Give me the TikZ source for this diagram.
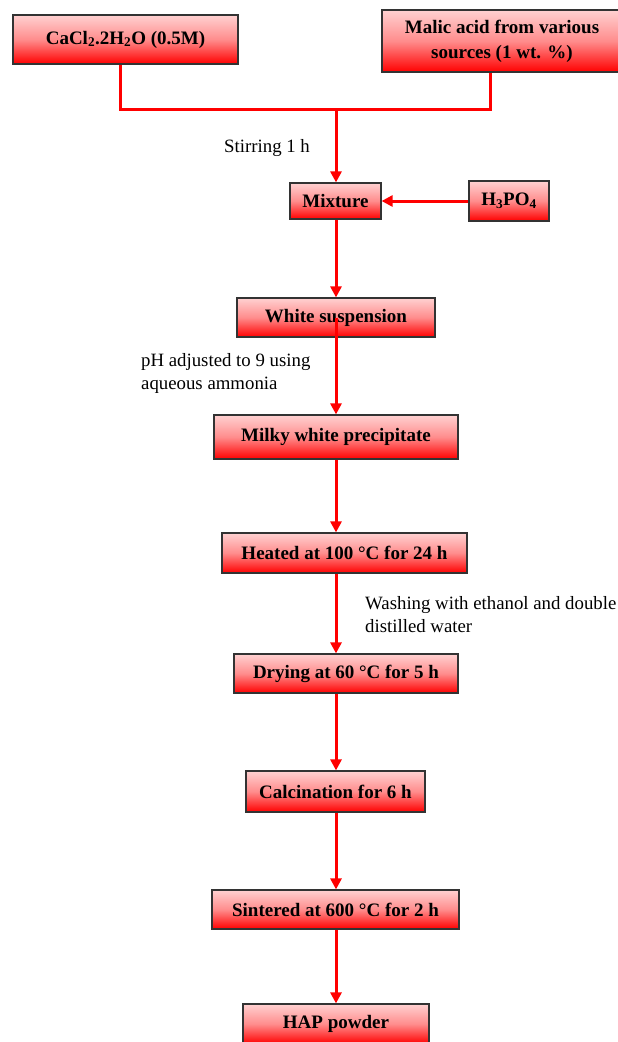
\documentclass[tikz,border=0pt]{standalone}
\usepackage{fontspec}
\setmainfont{Liberation Serif}
\usetikzlibrary{arrows.meta}
\tikzset{
  stage/.style={draw=black!80, line width=1.2pt, top color=red!18, bottom color=red, middle color=red!45,
    font=\fontsize{19}{25}\selectfont\bfseries, align=center, inner sep=0pt, anchor=center},
  flow/.style={draw=red, line width=3pt, -{Triangle[length=11pt,width=11pt]}},
  link/.style={draw=red, line width=3pt},
  note/.style={font=\fontsize{18.8}{23}\selectfont, align=left, inner sep=0pt, anchor=west}
}
\begin{document}
\begin{tikzpicture}[x=1pt,y=-1pt]
\useasboundingbox (0,0) rectangle (618,1042);
\node[stage, minimum width=225pt, minimum height=49pt] (ca) at (125.5,39.5) {CaCl\textsubscript{2}.2H\textsubscript{2}O (0.5M)};
\node[stage, minimum width=240pt, minimum height=62pt] (ma) at (502,41) {Malic acid from various\\sources (1 wt. \%)};
\node[stage, minimum width=91pt, minimum height=36pt] (mix) at (335.5,201) {Mixture};
\node[stage, minimum width=80pt, minimum height=40pt] (hp) at (509,201) {H\textsubscript{3}PO\textsubscript{4}};
\node[stage, minimum width=198pt, minimum height=39pt] (ws) at (336,317.5) {White suspension};
\node[stage, minimum width=244pt, minimum height=44pt] (mw) at (336,437) {Milky white precipitate};
\node[stage, minimum width=245pt, minimum height=40pt] (he) at (344.5,553) {Heated at 100 °C for 24 h};
\node[stage, minimum width=224pt, minimum height=39pt] (dr) at (346,673.5) {Drying at 60 °C for 5 h};
\node[stage, minimum width=179pt, minimum height=41pt] (ca2) at (335.5,791.5) {Calcination for 6 h};
\node[stage, minimum width=247pt, minimum height=39pt] (si) at (335.5,909.5) {Sintered at 600 °C for 2 h};
\node[stage, minimum width=186pt, minimum height=40pt] (hap) at (336,1024) {HAP powder};
\coordinate (jl) at (120,109);
\coordinate (jr) at (490,109);
\coordinate (jm) at (336,109);
\draw[link] (ca.south -| jl) -- (jl) -- (jr) -- (ma.south -| jr);
\draw[flow] (jm) -- (mix.north -| jm);
\draw[flow] (hp.west) -- (mix.east);
\draw[flow] (mix.south -| jm) -- (ws.north -| jm);
\draw[flow] (ws.center -| jm) -- (mw.north -| jm);
\draw[flow] (mw.south -| jm) -- (he.north -| jm);
\draw[flow] (he.south -| jm) -- (dr.north -| jm);
\draw[flow] (dr.south -| jm) -- (ca2.north -| jm);
\draw[flow] (ca2.south -| jm) -- (si.north -| jm);
\draw[flow] (si.south -| jm) -- (hap.north -| jm);
\node[note] (n1) at (224,148) {Stirring 1 h};
\node[note] (n2) at (141,373) {pH adjusted to 9 using\\aqueous ammonia};
\node[note] (n3) at (365,615) {Washing with ethanol and double\\distilled water};
\end{tikzpicture}
\end{document}
